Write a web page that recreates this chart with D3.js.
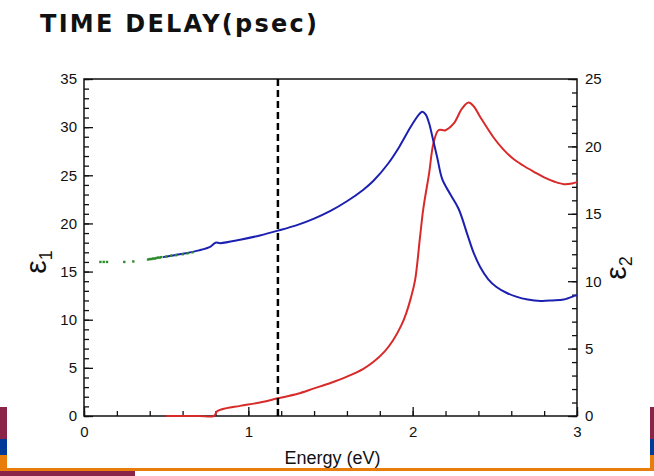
<!DOCTYPE html>
<html>
<head>
<meta charset="utf-8">
<script src="https://cdn.jsdelivr.net/npm/d3@7"></script>
<style>
body { margin: 0; background: #fff; }
svg { display: block; font-family: "Liberation Sans", Arial, sans-serif; }
</style>
</head>
<body>
<div id="chart"></div>
<script>
// eps1 (left axis), measured curve
const eps1Energy = [0.48, 0.55, 0.62, 0.70, 0.77, 0.80, 0.83, 0.95, 1.07, 1.18, 1.30, 1.40, 1.50, 1.60, 1.70, 1.76, 1.85, 1.92, 1.98, 2.02, 2.045, 2.06, 2.08, 2.10, 2.12, 2.15, 2.18, 2.23, 2.28, 2.33, 2.37, 2.41, 2.46, 2.51, 2.57, 2.63, 2.70, 2.78, 2.85, 2.92, 2.99, 3.00];
const eps1Values = [16.5, 16.7, 16.9, 17.2, 17.6, 18.0, 17.95, 18.3, 18.75, 19.25, 19.85, 20.5, 21.3, 22.3, 23.5, 24.4, 26.2, 28.0, 29.8, 30.9, 31.45, 31.6, 31.3, 30.4, 29.0, 26.8, 24.6, 23.0, 21.5, 19.0, 17.0, 15.5, 14.2, 13.4, 12.8, 12.4, 12.1, 11.95, 12.0, 12.1, 12.5, 12.55];

// eps2 (right axis)
const eps2Energy = [0.50, 0.70, 0.79, 0.81, 0.84, 0.95, 1.07, 1.18, 1.30, 1.40, 1.50, 1.60, 1.70, 1.76, 1.83, 1.88, 1.93, 1.96, 1.99, 2.015, 2.045, 2.065, 2.10, 2.126, 2.157, 2.20, 2.25, 2.30, 2.34, 2.37, 2.41, 2.49, 2.55, 2.61, 2.67, 2.74, 2.80, 2.86, 2.92, 2.97, 3.00];
const eps2Values = [0, 0, 0, 0.35, 0.5, 0.75, 1.0, 1.31, 1.65, 2.05, 2.45, 2.92, 3.5, 4.0, 4.8, 5.6, 6.7, 7.6, 8.8, 10.1, 13.3, 15.4, 18.0, 20.2, 21.2, 21.2, 21.7, 22.8, 23.25, 23.0, 22.2, 20.7, 19.8, 19.1, 18.6, 18.1, 17.7, 17.4, 17.2, 17.25, 17.35];

// low-energy eps1 points (green dots)
const dotEnergy = [0.10, 0.12, 0.14, 0.245, 0.30, 0.39, 0.40, 0.41, 0.42, 0.43, 0.44, 0.45, 0.46, 0.47, 0.50, 0.53, 0.56, 0.60, 0.63, 0.66];
const dotValues = [16.0, 16.0, 16.0, 16.0, 16.05, 16.25, 16.3, 16.3, 16.35, 16.35, 16.4, 16.45, 16.45, 16.5, 16.55, 16.65, 16.7, 16.8, 16.9, 17.0];

const markerEnergy = 1.18;

const xMajor = [0, 1, 2, 3];
const yLeftMajor = [0, 5, 10, 15, 20, 25, 30, 35];
const yRightMajor = [0, 5, 10, 15, 20, 25];

const width = 654, height = 476;
const box = { left: 84, right: 577, top: 79, bottom: 416 };

const svg = d3.select("#chart").append("svg")
    .attr("width", width)
    .attr("height", height);

// slide frame
svg.append("rect").attr("x", 0).attr("y", 407).attr("width", 7).attr("height", 32).attr("fill", "#8a2449");
svg.append("rect").attr("x", 0).attr("y", 439).attr("width", 7).attr("height", 16).attr("fill", "#003a99");
svg.append("rect").attr("x", 0).attr("y", 455).attr("width", 7).attr("height", 16).attr("fill", "#e87d0c");
svg.append("rect").attr("x", 650).attr("y", 407).attr("width", 4).attr("height", 32).attr("fill", "#8a2449");
svg.append("rect").attr("x", 650).attr("y", 439).attr("width", 4).attr("height", 16).attr("fill", "#003a99");
svg.append("rect").attr("x", 650).attr("y", 455).attr("width", 4).attr("height", 16).attr("fill", "#e87d0c");
svg.append("rect").attr("x", 0).attr("y", 468).attr("width", 654).attr("height", 3).attr("fill", "#e87d0c");
svg.append("rect").attr("x", 0).attr("y", 471).attr("width", 135).attr("height", 5).attr("fill", "#8a2449");

svg.append("text")
    .attr("x", 40).attr("y", 32)
    .attr("textLength", 277).attr("lengthAdjust", "spacing")
    .style("font-family", "'DejaVu Sans', sans-serif")
    .style("font-weight", "bold")
    .style("font-size", "24px")
    .attr("fill", "#111")
    .text("TIME DELAY(psec)");

const x = d3.scaleLinear().domain([0, 3]).range([box.left, box.right]);
const yL = d3.scaleLinear().domain([0, 35]).range([box.bottom, box.top]);
const yR = d3.scaleLinear().domain([0, 25]).range([box.bottom, box.top]);

function styleAxis(g) {
    g.select(".domain").remove();
    g.selectAll("line").attr("stroke", "#111").attr("stroke-width", 1.3);
    g.selectAll("text").attr("fill", "#111").style("font-size", "15px");
}

// bottom axis
svg.append("g").attr("transform", `translate(0,${box.bottom})`)
    .call(d3.axisBottom(x).tickValues(d3.range(0, 3.01, 0.2)).tickSize(-5).tickFormat(""))
    .call(styleAxis);
svg.append("g").attr("transform", `translate(0,${box.bottom})`)
    .call(d3.axisBottom(x).tickValues(xMajor).tickSize(-9).tickPadding(10).tickFormat(d3.format("d")))
    .call(styleAxis);

// left axis
svg.append("g").attr("transform", `translate(${box.left},0)`)
    .call(d3.axisLeft(yL).tickValues(d3.range(0, 36, 1)).tickSize(-5).tickFormat(""))
    .call(styleAxis);
svg.append("g").attr("transform", `translate(${box.left},0)`)
    .call(d3.axisLeft(yL).tickValues(yLeftMajor).tickSize(-9).tickPadding(7))
    .call(styleAxis);

// right axis
svg.append("g").attr("transform", `translate(${box.right},0)`)
    .call(d3.axisRight(yR).tickValues(d3.range(0, 26, 1)).tickSize(-5).tickFormat(""))
    .call(styleAxis);
svg.append("g").attr("transform", `translate(${box.right},0)`)
    .call(d3.axisRight(yR).tickValues(yRightMajor).tickSize(-9).tickPadding(8))
    .call(styleAxis);

// frame
svg.append("rect")
    .attr("x", box.left).attr("y", box.top)
    .attr("width", box.right - box.left).attr("height", box.bottom - box.top)
    .attr("fill", "none").attr("stroke", "#111").attr("stroke-width", 1.5);

const eps1 = eps1Energy.map((e, i) => [e, eps1Values[i]]);
const eps2 = eps2Energy.map((e, i) => [e, eps2Values[i]]);
const smooth = d3.curveCatmullRom.alpha(0.5);

svg.append("path")
    .datum(eps2)
    .attr("fill", "none").attr("stroke", "#d92a2a").attr("stroke-width", 2)
    .attr("d", d3.line().x(d => x(d[0])).y(d => yR(d[1])).curve(smooth));

svg.append("path")
    .datum(eps1)
    .attr("fill", "none").attr("stroke", "#1c20b0").attr("stroke-width", 2)
    .attr("d", d3.line().x(d => x(d[0])).y(d => yL(d[1])).curve(smooth));

svg.append("g").selectAll("rect")
    .data(dotEnergy.map((e, i) => [e, dotValues[i]]))
    .join("rect")
    .attr("x", d => x(d[0]) - 1.2).attr("y", d => yL(d[1]) - 1.2)
    .attr("width", 2.4).attr("height", 2.4)
    .attr("fill", "#2e8b2e");

// marker line
svg.append("line")
    .attr("x1", x(markerEnergy)).attr("x2", x(markerEnergy))
    .attr("y1", box.top).attr("y2", box.bottom)
    .attr("stroke", "#000").attr("stroke-width", 2.5)
    .attr("stroke-dasharray", "7,4");

svg.append("text")
    .attr("x", (box.left + box.right) / 2 + 2).attr("y", 464)
    .attr("text-anchor", "middle")
    .style("font-size", "18px").attr("fill", "#111")
    .text("Energy (eV)");

function epsLabel(cx, cy, sub) {
    const t = svg.append("text")
        .attr("transform", `translate(${cx},${cy}) rotate(-90)`)
        .attr("text-anchor", "middle")
        .attr("fill", "#111")
        .style("font-size", "30px");
    t.append("tspan").text("ε");
    t.append("tspan").attr("dy", 6).style("font-size", "18px").text(sub);
}
epsLabel(46, 262, "1");
epsLabel(626, 268, "2");
</script>
</body>
</html>
